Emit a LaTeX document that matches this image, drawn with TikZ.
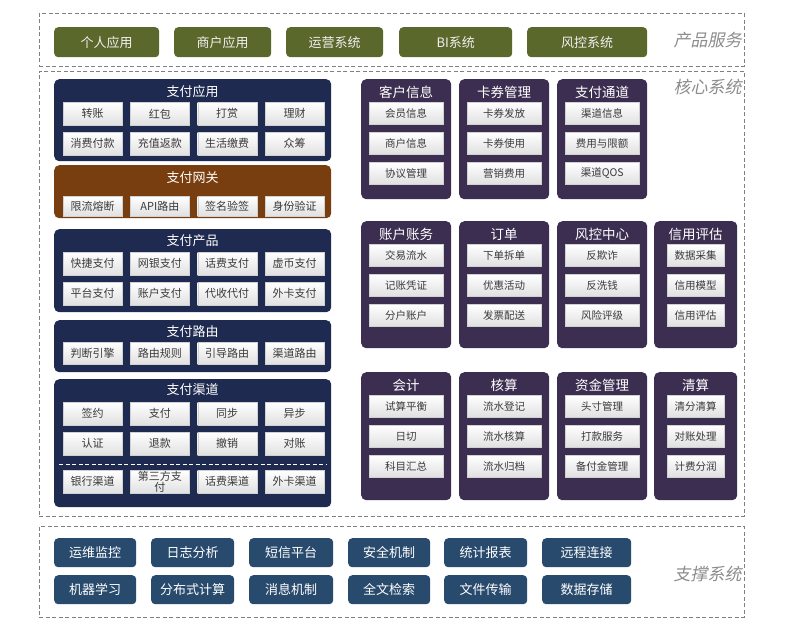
\documentclass[tikz,border=0pt]{standalone}
\usepackage{fontspec}
\setmainfont{Noto Sans CJK SC}
\newfontfamily\slantcjk[FakeSlant=0.2]{Noto Sans CJK SC}
\usetikzlibrary{positioning}
\definecolor{prodGreen}{HTML}{5A682C}
\definecolor{payNavy}{HTML}{1E2A50}
\definecolor{gateBrown}{HTML}{783E0F}
\definecolor{corePurple}{HTML}{3C2E50}
\definecolor{supportBlue}{HTML}{284A6C}
\definecolor{itemText}{HTML}{3A3A3A}
\definecolor{frameGray}{HTML}{808080}
\definecolor{labelGray}{HTML}{8C8C8C}
\tikzset{
  every node/.style={inner sep=0pt},
  layer/.style={draw=frameGray, dash pattern=on 4pt off 2.5pt, line width=0.7pt,
                anchor=north west},
  layerlabel/.style={font=\slantcjk\fontsize{17}{19}\selectfont, text=labelGray,
                     anchor=east},
  btn/.style={rounded corners=4pt, anchor=north west, text=white,
              font=\fontsize{13}{15}\selectfont},
  prodbtn/.style={btn, fill=prodGreen, minimum height=30pt, text=black!6},
  supbtn/.style={btn, fill=supportBlue, minimum height=29pt},
  panel/.style={rounded corners=5pt, anchor=north west},
  paypanel/.style={panel, fill=payNavy, minimum width=277pt},
  gatepanel/.style={panel, fill=gateBrown, minimum width=277pt},
  corepanel/.style={panel, fill=corePurple},
  title/.style={text=white, font=\fontsize{13}{15}\selectfont},
  item/.style={anchor=north, draw=black!18, top color=white, bottom color=black!12,
               text=itemText, font=\fontsize{11}{11}\selectfont, align=center},
  payitem/.style={item, minimum width=59pt, minimum height=23pt},
  coreitem/.style={item, minimum height=22pt, font=\fontsize{10.5}{12}\selectfont},
  sepline/.style={draw=white, dash pattern=on 4pt off 2.5pt, line width=0.8pt},
}
% four items in a row of a payment panel
\newcommand{\payRow}[4]{%
  \foreach \t [count=\k] in {#4}
    \node[payitem, minimum height=#3pt] (#1-\k) at ({25.3+67.3*\k},#2) {\t};}
% a core module with its title and three items
\newcommand{\corePanel}[8]{%
  \node[corepanel, minimum width=#4pt, minimum height=#5pt] (#1) at (#2,#3) {};
  \node[title, font=\fontsize{13.5}{15}\selectfont] (#1-title)
    at ([yshift=-13pt]#1.north) {#7};
  \foreach \t [count=\k] in {#8}
    \node[coreitem, minimum width=#6pt] (#1-\k)
      at ([yshift={-23pt-30pt*(\k-1)}]#1.north) {\t};}

\begin{document}
\begin{tikzpicture}[x=1pt, y=-1pt]
\useasboundingbox (0,0) rectangle (797,630);

% ------------------------------------------------------------ the layers
\node[layer, minimum width=705pt, minimum height=53pt] (prodLayer) at (39,13) {};
\node[layer, minimum width=705pt, minimum height=445pt] (coreLayer) at (39,71) {};
\node[layer, minimum width=705pt, minimum height=91pt] (supLayer) at (39,526) {};
\node[layerlabel] (prodLabel) at ([xshift=-3pt]prodLayer.east) {产品服务};
\node[layerlabel] (coreLabel) at ([xshift=-3pt,yshift=-16pt]coreLayer.north east) {核心系统};
\node[layerlabel] (supLabel) at ([xshift=-3pt,yshift=-2pt]supLayer.east) {支撑系统};

% ---------------------------------------------------------- product services
\foreach \t/\x/\w [count=\k] in {个人应用/54/105, 商户应用/174/97, 运营系统/286/97,
                                  BI系统/399/113, 风控系统/527/120}
  \node[prodbtn, minimum width=\w pt] (prod\k) at (\x,27) {\t};

% ------------------------------------------------------- the payment column
\node[paypanel, minimum height=82pt] (payApp) at (54,79) {};
\node[title] (payApp-title) at ([yshift=-13pt]payApp.north) {支付应用};
\payRow{payApp-a}{102}{23}{转账,红包,打赏,理财}
\payRow{payApp-b}{132}{23}{消费付款,充值返款,生活缴费,众筹}

\node[gatepanel, minimum height=53pt] (gateway) at (54,165) {};
\node[title] (gateway-title) at ([yshift=-13pt]gateway.north) {支付网关};
\payRow{gateway-a}{196}{20}{限流熔断,API路由,签名验签,身份验证}

\node[paypanel, minimum height=83pt] (payProd) at (54,229) {};
\node[title] (payProd-title) at ([yshift=-12pt]payProd.north) {支付产品};
\payRow{payProd-a}{252}{23}{快捷支付,网银支付,话费支付,虚币支付}
\payRow{payProd-b}{282}{23}{平台支付,账户支付,代收代付,外卡支付}

\node[paypanel, minimum height=52pt] (payRoute) at (54,320) {};
\node[title] (payRoute-title) at ([yshift=-12pt]payRoute.north) {支付路由};
\payRow{payRoute-a}{342}{22}{判断引擎,路由规则,引导路由,渠道路由}

\node[paypanel, minimum height=128pt] (payChan) at (54,379) {};
\node[title] (payChan-title) at ([yshift=-11pt]payChan.north) {支付渠道};
\payRow{payChan-a}{402}{23}{签约,支付,同步,异步}
\payRow{payChan-b}{432}{23}{认证,退款,撤销,对账}
\draw[sepline] (59,464) -- (326,464);
\payRow{payChan-c}{470}{23}{银行渠道,{第三方支\\付},话费渠道,外卡渠道}

% ---------------------------------------------------------- the core modules
\corePanel{custInfo}{361}{79}{90}{120}{74}{客户信息}{会员信息,商户信息,协议管理}
\corePanel{coupon}{459}{79}{90}{120}{74}{卡券管理}{卡券发放,卡券使用,营销费用}
\corePanel{channel}{557}{79}{90}{120}{74}{支付通道}{渠道信息,费用与限额,渠道QOS}

\corePanel{account}{361}{221}{90}{127}{74}{账户账务}{交易流水,记账凭证,分户账户}
\corePanel{order}{459}{221}{90}{127}{74}{订单}{下单拆单,优惠活动,发票配送}
\corePanel{riskCtl}{557}{221}{90}{127}{74}{风控中心}{反欺诈,反洗钱,风险评级}
\corePanel{credit}{654}{221}{83}{127}{57}{信用评估}{数据采集,信用模型,信用评估}

\corePanel{ledger}{361}{372}{90}{128}{74}{会计}{试算平衡,日切,科目汇总}
\corePanel{audit}{459}{372}{90}{128}{74}{核算}{流水登记,流水核算,流水归档}
\corePanel{fund}{557}{372}{90}{128}{74}{资金管理}{头寸管理,打款服务,备付金管理}
\corePanel{clearing}{654}{372}{83}{128}{57}{清算}{清分清算,对账处理,计费分润}

% ------------------------------------------------------------ support layer
\foreach \t/\x/\w [count=\k] in {运维监控/54/82, 日志分析/151/83, 短信平台/249/84,
                                  安全机制/348/82, 统计报表/444/83, 远程连接/542/89}
  \node[supbtn, minimum width=\w pt] (sup-a\k) at (\x,538) {\t};
\foreach \t/\x/\w [count=\k] in {机器学习/54/82, 分布式计算/151/83, 消息机制/249/84,
                                  全文检索/348/82, 文件传输/444/83, 数据存储/542/89}
  \node[supbtn, minimum width=\w pt] (sup-b\k) at (\x,575) {\t};

\end{tikzpicture}
\end{document}
